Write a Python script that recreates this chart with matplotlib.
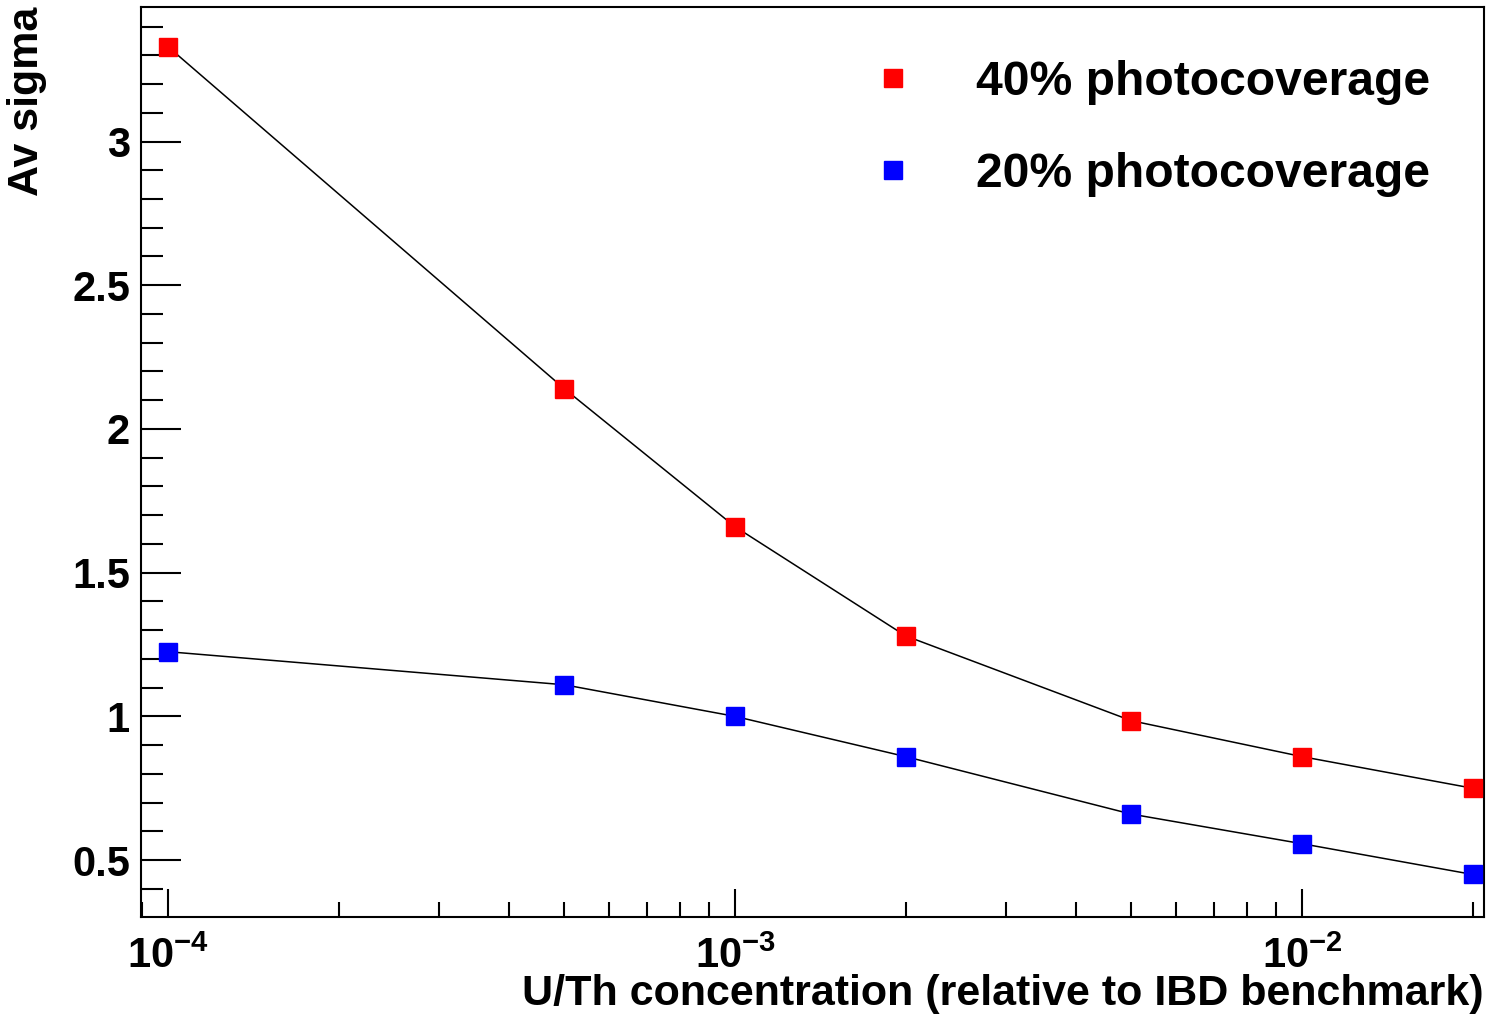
import numpy as np
import matplotlib
matplotlib.use('Agg')
import matplotlib.pyplot as plt
from matplotlib.ticker import LogLocator, FixedLocator, NullFormatter

# fonts - ROOT uses helvetica bold, Liberation Sans is the closest here
plt.rcParams['font.family'] = 'Liberation Sans'
plt.rcParams['font.weight'] = 'bold'
plt.rcParams['mathtext.fontset'] = 'custom'
plt.rcParams['mathtext.rm'] = 'Liberation Sans:bold'
plt.rcParams['mathtext.bf'] = 'Liberation Sans:bold'
plt.rcParams['mathtext.default'] = 'rm'

# data
conc = [1e-4, 5e-4, 1e-3, 2e-3, 5e-3, 1e-2, 2e-2]
sigma_40 = [3.33, 2.14, 1.66, 1.28, 0.985, 0.86, 0.75]
sigma_20 = [1.225, 1.11, 1.0, 0.86, 0.66, 0.557, 0.45]
labels = ['40% photocoverage', '20% photocoverage']
colors = ['red', 'blue']

fig = plt.figure(figsize=(14.86, 10.15), dpi=100)
ax = fig.add_axes([141/1486, 1 - 917/1015, 1343/1486, 910/1015])

for ys, c, lab in zip([sigma_40, sigma_20], colors, labels):
    ax.plot(conc, ys, '-', color='black', lw=1.1, zorder=2)
    ax.plot(conc, ys, 's', color=c, ms=13.5, mec=c, ls='none', label=lab, zorder=3)

ax.set_xscale('log')
ax.set_xlim(10**-4.0476, 10**-1.679)
ax.set_ylim(0.302, 3.468)

# ticks, ROOT style (inside, only bottom/left)
ax.xaxis.set_major_locator(FixedLocator([1e-4, 1e-3, 1e-2]))
ax.xaxis.set_minor_locator(LogLocator(base=10, subs=np.arange(2, 10)))
ax.xaxis.set_minor_formatter(NullFormatter())
ax.set_xticklabels([r'$10^{-4}$', r'$10^{-3}$', r'$10^{-2}$'])
ax.set_yticks([0.5, 1, 1.5, 2, 2.5, 3])
ax.set_yticklabels(['0.5', '1', '1.5', '2', '2.5', '3'])
ax.set_yticks(np.arange(0.4, 3.45, 0.1), minor=True)

ax.tick_params(axis='both', which='both', direction='in', width=1.5,
               top=False, right=False, labelsize=30)
ax.tick_params(axis='y', which='major', length=29, pad=8)
ax.tick_params(axis='y', which='minor', length=16)
ax.tick_params(axis='x', which='major', length=20, pad=14)
ax.tick_params(axis='x', which='minor', length=11)
for s in ax.spines.values():
    s.set_linewidth(1.5)

ax.set_xlabel('U/Th concentration (relative to IBD benchmark)', fontsize=31,
              fontweight='bold', loc='right')
ax.xaxis.set_label_coords(1.0, -0.063)
ax.xaxis.label.set_va('top')
ax.set_ylabel('Av sigma', fontsize=31, fontweight='bold', loc='top')
ax.yaxis.set_label_coords(-0.07, 1.0)

leg = ax.legend(loc='upper left', bbox_to_anchor=(0.510, 0.963), frameon=False,
                fontsize=34.6, handlelength=2.0, handletextpad=0.72,
                labelspacing=0.98, borderaxespad=0)

fig.savefig('out.png', dpi=100)
